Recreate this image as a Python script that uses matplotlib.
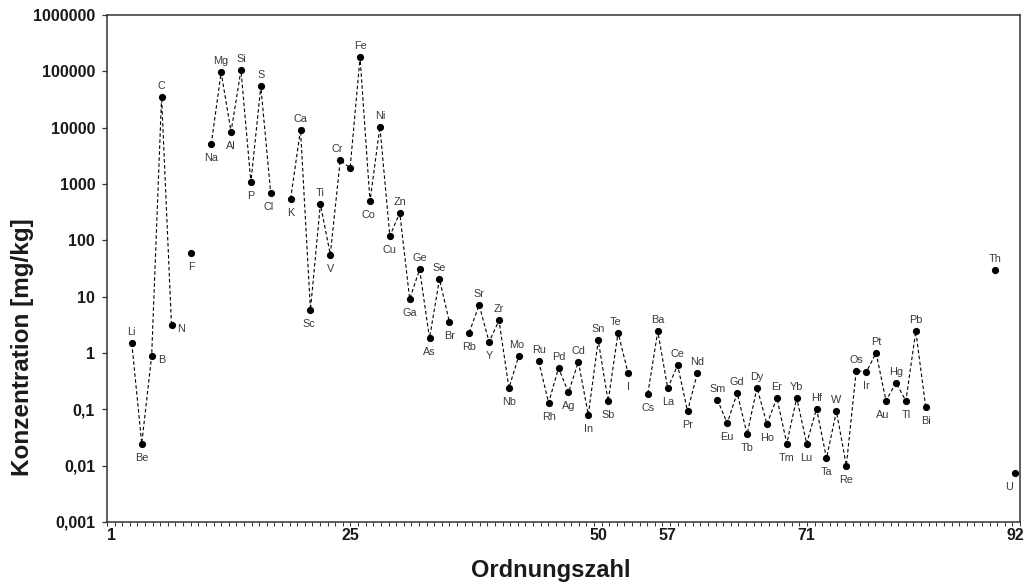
import numpy as np
import matplotlib
matplotlib.use("Agg")
import matplotlib.pyplot as plt
from matplotlib.ticker import FixedLocator, NullFormatter

# ---------------- data ----------------
elements = ['Li', 'Be', 'B', 'C', 'N', 'F',
            'Na', 'Mg', 'Al', 'Si', 'P', 'S', 'Cl',
            'K', 'Ca', 'Sc', 'Ti', 'V', 'Cr', 'Mn', 'Fe', 'Co', 'Ni', 'Cu', 'Zn',
            'Ga', 'Ge', 'As', 'Se', 'Br',
            'Rb', 'Sr', 'Y', 'Zr', 'Nb', 'Mo',
            'Ru', 'Rh', 'Pd', 'Ag', 'Cd', 'In', 'Sn', 'Sb', 'Te', 'I',
            'Cs', 'Ba', 'La', 'Ce', 'Pr', 'Nd',
            'Sm', 'Eu', 'Gd', 'Tb', 'Dy', 'Ho', 'Er', 'Tm', 'Yb', 'Lu',
            'Hf', 'Ta', 'W', 'Re', 'Os', 'Ir', 'Pt', 'Au', 'Hg', 'Tl', 'Pb', 'Bi',
            'Th', 'U']
atomic_numbers = [3, 4, 5, 6, 7, 9,
                  11, 12, 13, 14, 15, 16, 17,
                  19, 20, 21, 22, 23, 24, 25, 26, 27, 28, 29, 30,
                  31, 32, 33, 34, 35,
                  37, 38, 39, 40, 41, 42,
                  44, 45, 46, 47, 48, 49, 50, 51, 52, 53,
                  55, 56, 57, 58, 59, 60,
                  62, 63, 64, 65, 66, 67, 68, 69, 70, 71,
                  72, 73, 74, 75, 76, 77, 78, 79, 80, 81, 82, 83,
                  90, 92]
concentrations = [1.48, 0.0247, 0.89, 35000, 3.1, 60,
                  5050, 96000, 8460, 105000, 1070, 54200, 680,
                  546, 9180, 5.8, 440, 56, 2630, 1940, 177000, 497, 10400, 119, 308,
                  9.1, 30.4, 1.83, 20.5, 3.57,
                  2.31, 7.15, 1.57, 3.78, 0.24, 0.89,
                  0.715, 0.130, 0.543, 0.199, 0.70, 0.080, 1.67, 0.139, 2.31, 0.443,
                  0.191, 2.41, 0.237, 0.607, 0.0925, 0.45,
                  0.149, 0.0567, 0.195, 0.0361, 0.244, 0.0544, 0.160, 0.0247, 0.160, 0.0247,
                  0.103, 0.0135, 0.0925, 0.0100, 0.489, 0.456, 1.0, 0.141, 0.299, 0.141, 2.44, 0.109,
                  29.4, 0.0074]

x_ticks = [1, 25, 50, 57, 71, 92]
y_ticks = [0.001, 0.01, 0.1, 1, 10, 100, 1000, 10000, 100000, 1000000]
y_tick_labels = ['0,001', '0,01', '0,1', '1', '10', '100', '1000', '10000', '100000', '1000000']

# label placement (style): default below; special ones here
above = {'Li', 'C', 'Mg', 'Si', 'S', 'Ca', 'Ti', 'Cr', 'Fe', 'Ni', 'Zn', 'Ge', 'Se',
         'Sr', 'Zr', 'Mo', 'Ru', 'Pd', 'Cd', 'Sn', 'Te', 'Ba', 'Ce', 'Nd',
         'Sm', 'Gd', 'Dy', 'Er', 'Yb', 'Hf', 'W', 'Os', 'Pt', 'Hg', 'Pb', 'Th'}
right = {'B', 'N'}
no_label = {'Mn'}
dx_shift = {'Cl': -2, 'Sc': -2, 'Co': -2, 'Te': -3, 'Au': -3, 'Mo': -2, 'Cr': -3, 'U': -6}

# ---------------- figure ----------------
W, H = 1031, 585
fig = plt.figure(figsize=(W / 100, H / 100), dpi=100)
ax_l, ax_r, ax_t, ax_b = 107, 1020, 15, 522
ax = fig.add_axes([ax_l / W, 1 - ax_b / H, (ax_r - ax_l) / W, (ax_b - ax_t) / H])

# line with gaps for missing elements
z_full = np.arange(1, 93)
v_full = np.full(z_full.shape, np.nan)
for z, v in zip(atomic_numbers, concentrations):
    v_full[z - 1] = v
ax.plot(z_full, v_full, color='black', lw=0.8, ls=(0, (3.2, 2.2)), zorder=2)
ax.plot(atomic_numbers, concentrations, 'o', color='black', ms=5.2, zorder=3,
        markeredgewidth=0)

for el, z, v in zip(elements, atomic_numbers, concentrations):
    if el in no_label:
        continue
    if el in above:
        off = (0, 11)
    elif el in right:
        off = (10, -4)
    else:
        off = (0, -14)
    off = (off[0] + dx_shift.get(el, 0), off[1])
    ax.annotate(el, (z, v), xytext=off, textcoords='offset pixels',
                ha='center', va='center', fontsize=7.8, color='#3a3a3a',
                family='Liberation Sans')

ax.set_yscale('log')
ax.set_ylim(0.001, 1000000)
ax.set_xlim(0.5, 92.5)

ax.yaxis.set_major_locator(FixedLocator(y_ticks))
ax.set_yticklabels(y_tick_labels)
ax.yaxis.set_minor_locator(FixedLocator([]))
ax.set_xticks(x_ticks)
ax.set_xticklabels([str(t) for t in x_ticks])
ax.xaxis.set_minor_locator(FixedLocator(np.linspace(0.5, 92.5, 121)))
ax.xaxis.set_minor_formatter(NullFormatter())

for lab in ax.get_xticklabels() + ax.get_yticklabels():
    lab.set_fontfamily('Liberation Sans')
    lab.set_fontweight('bold')
    lab.set_fontsize(11.5)
    lab.set_color('#1a1a1a')

ax.tick_params(axis='y', which='major', direction='out', length=3.5, width=0.9,
               color='#333333', pad=5)
ax.tick_params(axis='x', which='major', length=0, pad=4)
ax.tick_params(axis='x', which='minor', direction='out', length=3, width=0.7,
               color='#333333')

for sp in ax.spines.values():
    sp.set_color('#333333')
    sp.set_linewidth(1.1)

fig.text(551 / W, 1 - 577 / H, 'Ordnungszahl', ha='center', va='baseline',
         fontsize=17, fontweight='bold', family='Liberation Sans', color='#1a1a1a')
fig.text(23 / W, 1 - 347 / H, 'Konzentration [mg/kg]', ha='center', va='center',
         rotation=90, fontsize=17.5, fontweight='bold', family='Liberation Sans',
         color='#1a1a1a')

fig.savefig('out.png', dpi=100)
